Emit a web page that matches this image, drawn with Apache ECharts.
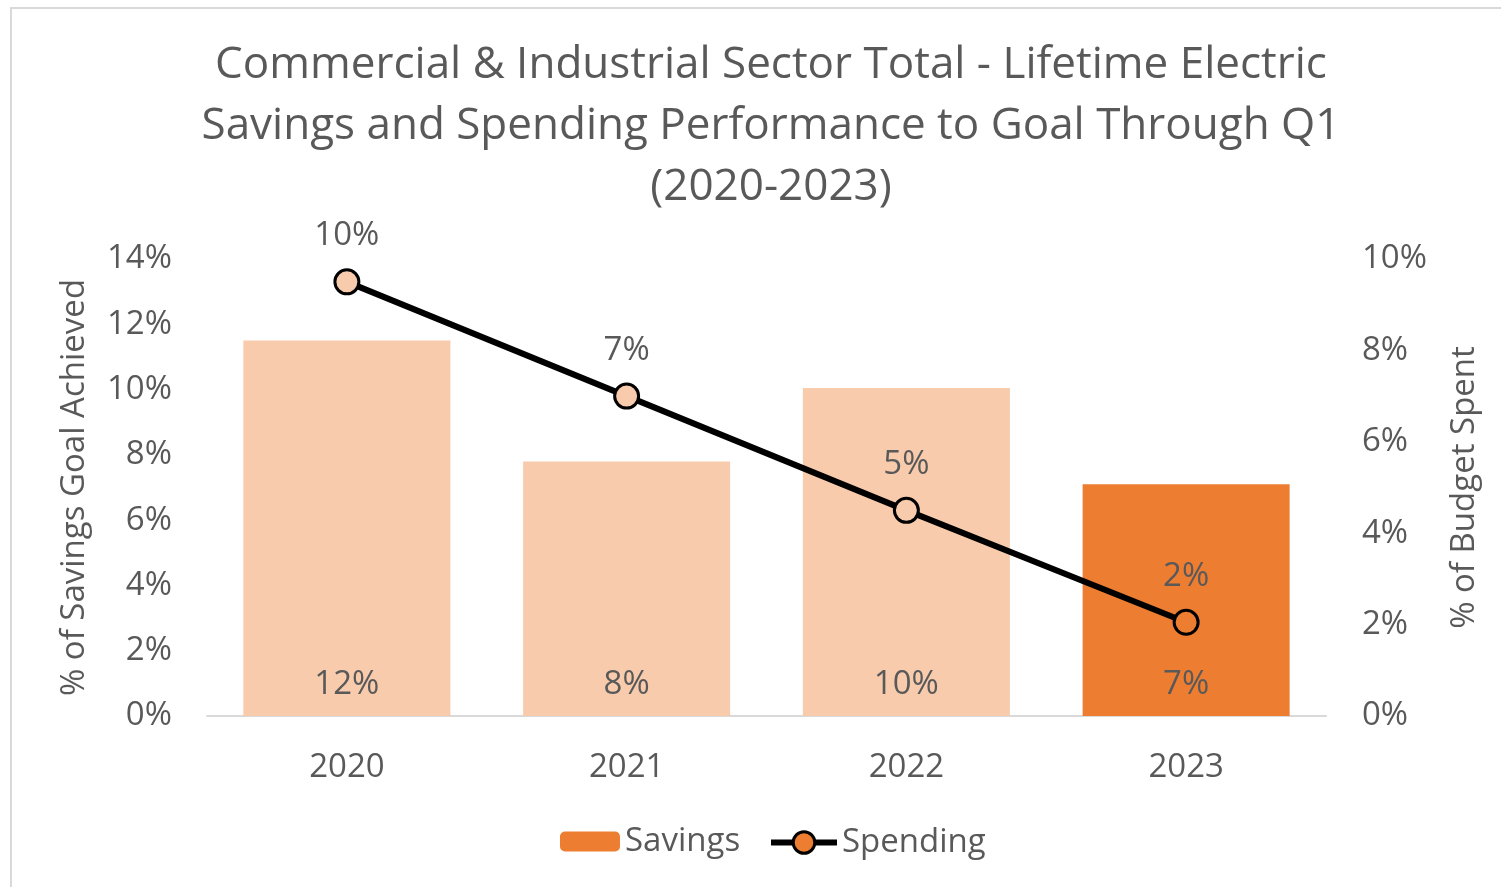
<!DOCTYPE html>
<html>
<head>
<meta charset="utf-8">
<script src="https://cdn.jsdelivr.net/npm/echarts@6/dist/echarts.min.js"></script>
<style>
  html, body { margin: 0; padding: 0; background: #fff; }
  #main { position: absolute; left: 0; top: 0; width: 1501px; height: 887px; }
  #frame { position: absolute; left: 10px; top: 7px; width: 1600px; height: 1000px;
           border-top: 2px solid #d9d9d9; border-left: 2px solid #d9d9d9; pointer-events: none; }
</style>
</head>
<body>
<div id="main"></div>
<div id="frame"></div>
<script>
// data
const years = ['2020', '2021', '2022', '2023'];
const savings = [11.5, 7.8, 10.05, 7.1];   // % of savings goal achieved
const spending = [9.5, 7.0, 4.5, 2.05];    // % of budget spent
const leftTicks = { min: 0, max: 14, interval: 2 };
const rightTicks = { min: 0, max: 10, interval: 2 };

const txt = '#595959';
const font = 'Open Sans';
const fs = 33;
const peach = '#F8CBAD';
const orange = '#ED7D31';

const pct = (p) => Math.round(p.value) + '%';

var myChart = echarts.init(document.getElementById('main'));
option = {
  textStyle: { fontFamily: font },
  title: {
    text: 'Commercial & Industrial Sector Total - Lifetime Electric\nSavings and Spending Performance to Goal Through Q1\n(2020-2023)',
    left: 766,
    textAlign: 'center',
    top: 30,
    textStyle: {
      color: txt,
      fontFamily: font,
      fontWeight: 'normal',
      fontSize: 44,
      lineHeight: 61
    }
  },
  // two legends so the line icon can be bigger than the bar swatch
  legend: [
    {
      left: 555,
      top: 820,
      itemWidth: 60,
      itemHeight: 20,
      textStyle: { color: txt, fontSize: fs, fontFamily: font },
      data: ['Savings']
    },
    {
      left: 763,
      top: 821,
      itemWidth: 66,
      itemHeight: 27,
      lineStyle: { width: 6, color: '#000' },
      itemStyle: { borderWidth: 3, borderColor: '#000', color: orange },
      textStyle: { color: txt, fontSize: fs, fontFamily: font },
      data: ['Spending']
    }
  ],
  grid: {
    left: 207,
    right: 175,
    top: 259,
    bottom: 171
  },
  xAxis: {
    type: 'category',
    data: years,
    axisLine: { lineStyle: { color: '#d9d9d9', width: 2 } },
    axisTick: { show: false },
    axisLabel: { color: txt, fontSize: fs, margin: 35 }
  },
  yAxis: [
    {
      type: 'value',
      min: leftTicks.min,
      max: leftTicks.max,
      interval: leftTicks.interval,
      name: '% of Savings Goal Achieved',
      nameLocation: 'middle',
      nameRotate: 90,
      nameGap: 116,
      nameTextStyle: { color: txt, fontSize: fs },
      splitLine: { show: false },
      axisLine: { show: false },
      axisLabel: { color: txt, fontSize: fs, margin: 35, formatter: '{value}%' }
    },
    {
      type: 'value',
      min: rightTicks.min,
      max: rightTicks.max,
      interval: rightTicks.interval,
      name: '% of Budget Spent',
      nameLocation: 'middle',
      nameRotate: 90,
      nameGap: 122,
      nameTextStyle: { color: txt, fontSize: fs },
      splitLine: { show: false },
      axisLine: { show: false },
      axisLabel: { color: txt, fontSize: fs, margin: 36, formatter: '{value}%' }
    }
  ],
  series: [
    {
      name: 'Savings',
      type: 'bar',
      barWidth: '74%',
      itemStyle: { color: orange },
      data: savings.map((v, i) => ({
        value: v,
        itemStyle: { color: i === years.length - 1 ? orange : peach }
      })),
      label: {
        show: true,
        position: 'insideBottom',
        distance: 15,
        color: txt,
        fontSize: fs,
        formatter: pct
      }
    },
    {
      name: 'Spending',
      type: 'line',
      yAxisIndex: 1,
      symbol: 'circle',
      symbolSize: 24,
      lineStyle: { color: '#000', width: 6 },
      itemStyle: { color: orange, borderColor: '#000', borderWidth: 3 },
      data: spending.map((v, i) => ({
        value: v,
        itemStyle: { color: i === years.length - 1 ? orange : peach }
      })),
      label: {
        show: true,
        position: 'top',
        distance: 16,
        color: txt,
        fontSize: fs,
        formatter: pct
      },
      z: 5
    }
  ]
};
myChart.setOption(option);
</script>
</body>
</html>
